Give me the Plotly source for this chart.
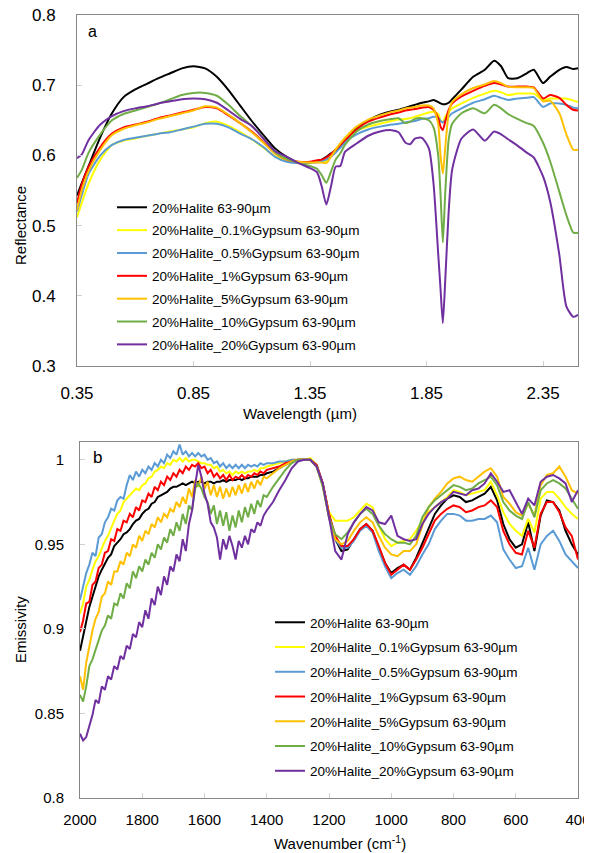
import plotly.graph_objects as go

# ---------------- Panel a : reflectance ----------------
wavelength = [0.35, 0.37, 0.40, 0.45, 0.50, 0.55, 0.60, 0.65, 0.70, 0.75, 0.80, 0.85, 0.90, 0.95,
              1.00, 1.05, 1.10, 1.15, 1.20, 1.25, 1.30, 1.35, 1.38, 1.40, 1.42, 1.44, 1.46, 1.48,
              1.50, 1.55, 1.60, 1.65, 1.70, 1.73, 1.76, 1.78, 1.80, 1.83, 1.86, 1.88, 1.90, 1.91,
              1.92, 1.93, 1.945, 1.96, 2.00, 2.05, 2.10, 2.14, 2.17, 2.20, 2.24, 2.28, 2.31, 2.35,
              2.38, 2.42, 2.45, 2.48, 2.50]

refl_halite = [0.543, 0.560, 0.585, 0.626, 0.660, 0.683, 0.694, 0.702, 0.710, 0.717, 0.724, 0.727, 0.724, 0.712,
               0.693, 0.671, 0.649, 0.629, 0.610, 0.598, 0.590, 0.590, 0.592, 0.594, 0.598, 0.603, 0.607, 0.612,
               0.620, 0.639, 0.650, 0.658, 0.663, 0.665, 0.668, 0.670, 0.672, 0.675, 0.677, 0.679, 0.676, 0.674,
               0.673, 0.673, 0.675, 0.680, 0.694, 0.712, 0.722, 0.735, 0.727, 0.710, 0.710, 0.717, 0.722, 0.703,
               0.712, 0.722, 0.726, 0.723, 0.724]
refl_g01 = [0.512, 0.532, 0.560, 0.594, 0.615, 0.621, 0.624, 0.628, 0.631, 0.634, 0.637, 0.640, 0.646, 0.648,
            0.642, 0.633, 0.623, 0.611, 0.599, 0.592, 0.590, 0.590, 0.591, 0.591, 0.592, 0.601, 0.609, 0.616,
            0.624, 0.635, 0.641, 0.645, 0.649, 0.651, 0.652, 0.653, 0.655, 0.658, 0.661, 0.662, 0.659, 0.650,
            0.647, 0.655, 0.662, 0.667, 0.674, 0.682, 0.688, 0.692, 0.690, 0.686, 0.688, 0.688, 0.688, 0.679,
            0.681, 0.681, 0.681, 0.678, 0.676]
refl_g05 = [0.520, 0.543, 0.574, 0.600, 0.615, 0.622, 0.625, 0.628, 0.631, 0.633, 0.637, 0.641, 0.645, 0.645,
            0.640, 0.631, 0.623, 0.612, 0.598, 0.591, 0.589, 0.590, 0.590, 0.592, 0.594, 0.598, 0.604, 0.611,
            0.619, 0.630, 0.637, 0.641, 0.644, 0.645, 0.647, 0.648, 0.649, 0.652, 0.653, 0.655, 0.654, 0.649,
            0.647, 0.650, 0.655, 0.660, 0.667, 0.675, 0.680, 0.685, 0.682, 0.679, 0.681, 0.682, 0.683, 0.669,
            0.674, 0.674, 0.672, 0.668, 0.667]
refl_g1 = [0.532, 0.558, 0.584, 0.612, 0.631, 0.640, 0.644, 0.648, 0.653, 0.657, 0.661, 0.665, 0.669, 0.667,
           0.657, 0.646, 0.634, 0.619, 0.603, 0.594, 0.591, 0.591, 0.593, 0.594, 0.597, 0.602, 0.608, 0.615,
           0.622, 0.637, 0.648, 0.654, 0.659, 0.661, 0.664, 0.665, 0.666, 0.668, 0.669, 0.665, 0.653, 0.641,
           0.636, 0.648, 0.665, 0.674, 0.684, 0.692, 0.699, 0.703, 0.701, 0.698, 0.698, 0.698, 0.697, 0.681,
           0.686, 0.682, 0.672, 0.665, 0.664]
refl_g5 = [0.522, 0.550, 0.578, 0.608, 0.629, 0.638, 0.643, 0.647, 0.652, 0.656, 0.660, 0.664, 0.670, 0.668,
           0.658, 0.646, 0.633, 0.618, 0.603, 0.594, 0.591, 0.590, 0.590, 0.590, 0.589, 0.598, 0.608, 0.617,
           0.625, 0.641, 0.651, 0.657, 0.662, 0.664, 0.667, 0.668, 0.669, 0.671, 0.671, 0.667, 0.645, 0.600,
           0.574, 0.610, 0.660, 0.676, 0.687, 0.696, 0.701, 0.706, 0.703, 0.698, 0.697, 0.697, 0.696, 0.677,
           0.678, 0.660, 0.630, 0.608, 0.608]
refl_g10 = [0.568, 0.579, 0.604, 0.630, 0.650, 0.659, 0.664, 0.669, 0.674, 0.680, 0.686, 0.689, 0.689, 0.685,
            0.672, 0.656, 0.642, 0.625, 0.605, 0.595, 0.589, 0.585, 0.581, 0.572, 0.561, 0.577, 0.594, 0.603,
            0.615, 0.634, 0.644, 0.649, 0.652, 0.653, 0.646, 0.648, 0.652, 0.653, 0.650, 0.640, 0.600, 0.545,
            0.476, 0.545, 0.622, 0.645, 0.660, 0.667, 0.660, 0.672, 0.667, 0.659, 0.652, 0.646, 0.642, 0.618,
            0.592, 0.548, 0.515, 0.490, 0.490]
refl_g20 = [0.596, 0.601, 0.622, 0.644, 0.656, 0.663, 0.667, 0.670, 0.674, 0.677, 0.680, 0.681, 0.680, 0.675,
            0.664, 0.652, 0.642, 0.624, 0.606, 0.598, 0.589, 0.582, 0.576, 0.556, 0.530, 0.556, 0.584, 0.585,
            0.605, 0.617, 0.628, 0.634, 0.636, 0.633, 0.618, 0.616, 0.624, 0.625, 0.610, 0.560, 0.460, 0.410,
            0.361, 0.420, 0.520, 0.580, 0.624, 0.637, 0.621, 0.634, 0.630, 0.623, 0.614, 0.604, 0.597, 0.570,
            0.535, 0.458, 0.385, 0.370, 0.373]

# ---------------- Panel b : emissivity ----------------
wavenumber = [2000, 1990, 1980, 1970, 1960, 1950, 1940, 1930, 1920, 1910,
              1900, 1890, 1880, 1870, 1860, 1850, 1840, 1830, 1820, 1810,
              1800, 1790, 1780, 1770, 1760, 1750, 1740, 1730, 1720, 1710,
              1700, 1690, 1680, 1670, 1660, 1650, 1640, 1630, 1620, 1610,
              1600, 1590, 1580, 1570, 1560, 1550, 1540, 1530, 1520, 1510,
              1500, 1490, 1480, 1470, 1460, 1450, 1440, 1430, 1420, 1410,
              1400, 1380, 1360, 1340, 1320, 1300, 1280, 1260, 1240, 1220,
              1200, 1180, 1160, 1140, 1120, 1100, 1080, 1060, 1040, 1020,
              1000, 980, 960, 940, 920, 900, 880, 860, 840, 820,
              800, 780, 760, 740, 720, 700, 680, 660, 640, 620,
              600, 580, 560, 540, 520, 500, 480, 460, 440, 420, 400]

emis_halite = [0.887, 0.895, 0.903, 0.913, 0.919, 0.925, 0.931, 0.935, 0.939, 0.942,
               0.944, 0.949, 0.951, 0.953, 0.956, 0.957, 0.959, 0.962, 0.964, 0.965,
               0.968, 0.970, 0.971, 0.974, 0.975, 0.978, 0.979, 0.980, 0.981, 0.983,
               0.984, 0.984, 0.985, 0.986, 0.985, 0.986, 0.987, 0.986, 0.987, 0.987,
               0.986, 0.987, 0.987, 0.986, 0.987, 0.987, 0.988, 0.987, 0.988, 0.988,
               0.988, 0.989, 0.988, 0.989, 0.989, 0.990, 0.990, 0.990, 0.991, 0.991,
               0.992, 0.993, 0.995, 0.997, 0.999, 1.000, 1.000, 1.000, 0.997, 0.986,
               0.968, 0.953, 0.946, 0.947, 0.953, 0.959, 0.962, 0.958, 0.948, 0.939,
               0.933, 0.936, 0.938, 0.935, 0.942, 0.951, 0.960, 0.968, 0.973, 0.977,
               0.979, 0.978, 0.975, 0.976, 0.978, 0.980, 0.984, 0.976, 0.962, 0.953,
               0.948, 0.950, 0.963, 0.946, 0.967, 0.976, 0.975, 0.970, 0.958, 0.950, 0.944]
emis_g01 = [0.909, 0.915, 0.925, 0.929, 0.935, 0.940, 0.943, 0.948, 0.952, 0.955,
            0.960, 0.964, 0.968, 0.970, 0.975, 0.977, 0.979, 0.981, 0.983, 0.982,
            0.985, 0.986, 0.989, 0.990, 0.993, 0.994, 0.996, 0.995, 0.998, 0.997,
            1.000, 0.999, 1.001, 0.999, 1.001, 0.999, 1.000, 1.000, 0.999, 0.998,
            0.998, 0.997, 0.997, 0.995, 0.996, 0.993, 0.994, 0.992, 0.993, 0.991,
            0.993, 0.992, 0.993, 0.992, 0.993, 0.993, 0.994, 0.993, 0.995, 0.995,
            0.996, 0.997, 0.998, 0.999, 1.000, 1.000, 1.000, 1.001, 0.997, 0.984,
            0.969, 0.964, 0.964, 0.964, 0.966, 0.970, 0.974, 0.972, 0.961, 0.953,
            0.949, 0.951, 0.952, 0.953, 0.958, 0.964, 0.969, 0.972, 0.975, 0.978,
            0.982, 0.981, 0.979, 0.980, 0.981, 0.982, 0.987, 0.979, 0.969, 0.962,
            0.958, 0.955, 0.965, 0.957, 0.977, 0.981, 0.981, 0.977, 0.972, 0.968, 0.965]
emis_g05 = [0.917, 0.926, 0.933, 0.938, 0.945, 0.943, 0.954, 0.956, 0.963, 0.966,
            0.971, 0.970, 0.976, 0.978, 0.977, 0.985, 0.991, 0.988, 0.993, 0.990,
            0.994, 0.992, 0.996, 0.994, 0.998, 0.996, 1.000, 0.998, 1.003, 1.001,
            1.005, 1.003, 1.009, 1.003, 1.005, 1.002, 1.004, 1.002, 1.004, 1.002,
            1.003, 1.000, 1.001, 0.998, 0.999, 0.996, 0.998, 0.995, 0.997, 0.995,
            0.997, 0.995, 0.997, 0.995, 0.997, 0.996, 0.997, 0.996, 0.998, 0.997,
            0.998, 0.998, 0.999, 0.999, 1.000, 1.000, 1.000, 1.000, 0.997, 0.985,
            0.966, 0.953, 0.948, 0.948, 0.952, 0.958, 0.961, 0.957, 0.946, 0.937,
            0.930, 0.933, 0.935, 0.932, 0.937, 0.944, 0.950, 0.959, 0.964, 0.968,
            0.968, 0.967, 0.964, 0.964, 0.965, 0.965, 0.967, 0.963, 0.947, 0.941,
            0.936, 0.937, 0.948, 0.935, 0.950, 0.955, 0.958, 0.952, 0.944, 0.940, 0.936]
emis_g1 = [0.898, 0.905, 0.915, 0.916, 0.926, 0.928, 0.936, 0.938, 0.945, 0.946,
           0.953, 0.952, 0.959, 0.958, 0.964, 0.963, 0.968, 0.966, 0.972, 0.970,
           0.976, 0.975, 0.980, 0.978, 0.984, 0.982, 0.987, 0.985, 0.990, 0.988,
           0.992, 0.990, 0.994, 0.992, 0.996, 0.994, 0.997, 0.996, 0.998, 0.995,
           0.996, 0.992, 0.994, 0.990, 0.992, 0.989, 0.991, 0.988, 0.991, 0.988,
           0.990, 0.989, 0.991, 0.989, 0.991, 0.990, 0.992, 0.991, 0.993, 0.992,
           0.994, 0.995, 0.996, 0.998, 0.999, 1.000, 1.000, 1.000, 0.997, 0.986,
           0.968, 0.955, 0.949, 0.949, 0.953, 0.959, 0.962, 0.958, 0.949, 0.939,
           0.932, 0.935, 0.938, 0.935, 0.941, 0.948, 0.956, 0.964, 0.968, 0.971,
           0.973, 0.972, 0.969, 0.970, 0.972, 0.973, 0.976, 0.972, 0.958, 0.950,
           0.945, 0.944, 0.958, 0.948, 0.968, 0.975, 0.975, 0.969, 0.960, 0.955, 0.941]
emis_g5 = [0.872, 0.864, 0.880, 0.890, 0.899, 0.906, 0.910, 0.919, 0.921, 0.928,
           0.926, 0.934, 0.934, 0.940, 0.938, 0.945, 0.943, 0.950, 0.948, 0.955,
           0.952, 0.958, 0.956, 0.962, 0.960, 0.966, 0.963, 0.968, 0.966, 0.971,
           0.969, 0.975, 0.972, 0.978, 0.974, 0.983, 0.978, 0.988, 0.984, 0.990,
           0.983, 0.987, 0.979, 0.985, 0.978, 0.984, 0.977, 0.983, 0.978, 0.984,
           0.979, 0.985, 0.980, 0.986, 0.981, 0.987, 0.983, 0.988, 0.985, 0.990,
           0.989, 0.992, 0.995, 0.997, 0.999, 1.000, 1.000, 1.000, 0.996, 0.985,
           0.966, 0.953, 0.950, 0.952, 0.958, 0.963, 0.966, 0.963, 0.955, 0.948,
           0.944, 0.943, 0.946, 0.946, 0.950, 0.961, 0.972, 0.977, 0.981, 0.986,
           0.989, 0.990, 0.988, 0.987, 0.990, 0.993, 0.995, 0.990, 0.978, 0.974,
           0.969, 0.967, 0.974, 0.967, 0.985, 0.991, 0.992, 0.996, 0.990, 0.982, 0.980]
emis_g10 = [0.861, 0.857, 0.866, 0.878, 0.882, 0.888, 0.893, 0.899, 0.902, 0.908,
            0.906, 0.915, 0.914, 0.921, 0.918, 0.927, 0.924, 0.934, 0.930, 0.937,
            0.934, 0.941, 0.938, 0.945, 0.942, 0.950, 0.947, 0.954, 0.951, 0.959,
            0.955, 0.963, 0.958, 0.968, 0.962, 0.973, 0.970, 0.983, 0.986, 0.983,
            0.978, 0.975, 0.968, 0.973, 0.962, 0.970, 0.961, 0.969, 0.958, 0.967,
            0.960, 0.970, 0.963, 0.972, 0.966, 0.974, 0.968, 0.976, 0.972, 0.979,
            0.978, 0.984, 0.989, 0.994, 0.998, 1.000, 1.000, 1.000, 0.996, 0.984,
            0.966, 0.956, 0.953, 0.957, 0.963, 0.968, 0.971, 0.968, 0.961, 0.956,
            0.953, 0.951, 0.951, 0.950, 0.955, 0.966, 0.972, 0.976, 0.979, 0.982,
            0.985, 0.984, 0.982, 0.983, 0.986, 0.988, 0.990, 0.985, 0.975, 0.970,
            0.967, 0.965, 0.975, 0.966, 0.982, 0.986, 0.988, 0.986, 0.983, 0.977, 0.971]
emis_g20 = [0.838, 0.834, 0.836, 0.843, 0.849, 0.858, 0.856, 0.866, 0.864, 0.872,
            0.870, 0.878, 0.876, 0.884, 0.882, 0.890, 0.888, 0.897, 0.895, 0.904,
            0.901, 0.911, 0.906, 0.918, 0.914, 0.925, 0.920, 0.931, 0.926, 0.937,
            0.934, 0.944, 0.940, 0.953, 0.946, 0.962, 0.970, 0.985, 0.997, 0.990,
            0.980, 0.974, 0.963, 0.960, 0.954, 0.941, 0.953, 0.947, 0.955, 0.949,
            0.941, 0.952, 0.948, 0.955, 0.950, 0.959, 0.957, 0.963, 0.961, 0.967,
            0.970, 0.975, 0.982, 0.988, 0.995, 0.999, 1.000, 1.000, 0.996, 0.986,
            0.966, 0.946, 0.941, 0.956, 0.963, 0.968, 0.972, 0.970, 0.963, 0.962,
            0.967, 0.955, 0.953, 0.952, 0.953, 0.962, 0.968, 0.972, 0.975, 0.977,
            0.981, 0.980, 0.979, 0.982, 0.983, 0.986, 0.992, 0.987, 0.981, 0.982,
            0.975, 0.968, 0.977, 0.973, 0.987, 0.990, 0.991, 0.989, 0.986, 0.975, 0.982]

series_names = ["20%Halite 63-90µm",
                "20%Halite_0.1%Gypsum 63-90µm",
                "20%Halite_0.5%Gypsum 63-90µm",
                "20%Halite_1%Gypsum 63-90µm",
                "20%Halite_5%Gypsum 63-90µm",
                "20%Halite_10%Gypsum 63-90µm",
                "20%Halite_20%Gypsum 63-90µm"]
series_colors = ["#000000", "#FFFF00", "#5B9BD5", "#FF0000", "#FFC000", "#70AD47", "#7030A0"]

refl_series = [refl_halite, refl_g01, refl_g05, refl_g1, refl_g5, refl_g10, refl_g20]
emis_series = [emis_halite, emis_g01, emis_g05, emis_g1, emis_g5, emis_g10, emis_g20]

refl_ticks = [0.35, 0.85, 1.35, 1.85, 2.35]
refl_ticktext = ["0.35", "0.85", "1.35", "1.85", "2.35"]
refl_yticks = [0.3, 0.4, 0.5, 0.6, 0.7, 0.8]
refl_yticktext = ["0.3", "0.4", "0.5", "0.6", "0.7", "0.8"]
emis_xticks = [2000, 1800, 1600, 1400, 1200, 1000, 800, 600, 400]
emis_yticks = [0.8, 0.85, 0.9, 0.95, 1.0]
emis_yticktext = ["0.8", "0.85", "0.9", "0.95", "1"]

# The page body adds an 8px offset, so the figure is drawn 8px smaller
OFF = 8
W, H = 592 - OFF, 853 - OFF
FONT = "Liberation Sans, Arial, sans-serif"

fig = go.Figure()
for i, (name, col) in enumerate(zip(series_names, series_colors)):
    fig.add_trace(go.Scatter(x=wavelength, y=refl_series[i], mode="lines", name=name,
                             line=dict(color=col, width=2, shape="spline", smoothing=0.6),
                             xaxis="x", yaxis="y", legend="legend", legendgroup="a%d" % i))
for i, (name, col) in enumerate(zip(series_names, series_colors)):
    fig.add_trace(go.Scatter(x=wavenumber, y=emis_series[i], mode="lines", name=name,
                             line=dict(color=col, width=2),
                             xaxis="x2", yaxis="y2", legend="legend2", legendgroup="b%d" % i))


def px_x(p):
    return (p - OFF) / W


def px_y(p):
    return 1 - (p - OFF) / H


def axis_style(size):
    return dict(showline=True, linecolor="#868686", linewidth=1, mirror=True,
                ticks="inside", ticklen=5, tickcolor="#d0d0d0", showgrid=False,
                zeroline=False, automargin=False, ticklabeloverflow="allow",
                tickfont=dict(family=FONT, color="#000000", size=size))


fig.update_layout(
    width=W, height=H, margin=dict(l=0, r=0, t=0, b=0, autoexpand=False),
    paper_bgcolor="white", plot_bgcolor="white",
    font=dict(family=FONT, color="#000000"),
    xaxis=dict(domain=[px_x(77), px_x(578)], range=[0.35, 2.5], tickvals=refl_ticks,
               ticktext=refl_ticktext, anchor="y", ticklabelstandoff=12, **axis_style(17)),
    yaxis=dict(domain=[px_y(366), px_y(15)], range=[0.3, 0.8], tickvals=refl_yticks,
               ticktext=refl_yticktext, anchor="x", ticklabelstandoff=17, **axis_style(17)),
    xaxis2=dict(domain=[px_x(80), px_x(578)], range=[2000, 400], tickvals=emis_xticks,
                anchor="y2", ticklabelstandoff=8, **axis_style(15)),
    yaxis2=dict(domain=[px_y(798), px_y(442)], range=[0.8, 1.0105], tickvals=emis_yticks,
                ticktext=emis_yticktext, anchor="x2", ticklabelstandoff=12, **axis_style(15)),
    legend=dict(x=px_x(112), y=px_y(192), xanchor="left", yanchor="top",
                bgcolor="rgba(0,0,0,0)", font=dict(family=FONT, size=13.5, color="#000000"),
                traceorder="grouped", tracegroupgap=2.3, itemwidth=30),
    legend2=dict(x=px_x(270), y=px_y(607), xanchor="left", yanchor="top",
                 bgcolor="rgba(0,0,0,0)", font=dict(family=FONT, size=13.5, color="#000000"),
                 traceorder="grouped", tracegroupgap=4.2, itemwidth=30),
    showlegend=True,
)

annotations = [
    dict(text="a", x=px_x(92), y=px_y(32), size=16),
    dict(text="b", x=px_x(97), y=px_y(457), size=17),
    dict(text="Reflectance", x=px_x(20), y=px_y(226), textangle=-90, size=15),
    dict(text="Wavelength (µm)", x=px_x(300), y=px_y(413), size=15),
    dict(text="Emissivity", x=px_x(20), y=px_y(630), textangle=-90, size=15),
    dict(text="Wavenumber (cm<sup>-1</sup>)", x=px_x(340), y=px_y(842), size=15),
]
for a in annotations:
    size = a.pop("size")
    fig.add_annotation(xref="paper", yref="paper", showarrow=False,
                       xanchor="center", yanchor="middle",
                       font=dict(family=FONT, color="#000000", size=size), **a)

fig.write_html("out.html")
